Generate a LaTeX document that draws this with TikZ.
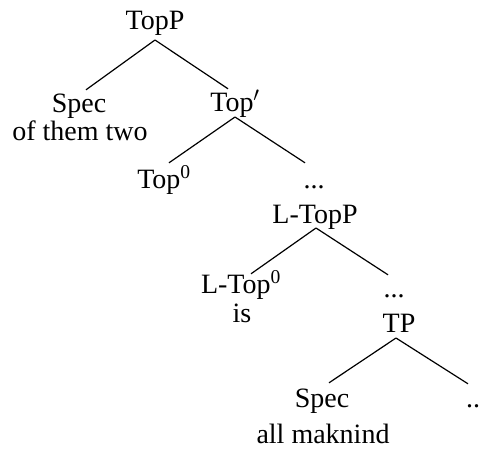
\documentclass[tikz,border=0pt]{standalone}
\usepackage{fontspec}
\setmainfont{Liberation Serif}
\begin{document}
\begin{tikzpicture}[x=1pt,y=-1pt,
  lbl/.style={inner sep=0pt, anchor=base, text height=18pt,
              font=\fontsize{28}{32}\selectfont},
  branch/.style={line width=1.2pt}]
\useasboundingbox (0,0) rectangle (481,450);

% labels, placed by their baselines
\node[lbl] (TopP)    at (155,29)  {TopP};
\node[lbl] (SpecA)   at (79,112)  {Spec};
\node[lbl] (them)    at (80,140)  {of them two};
\node[lbl] (TopBar)  at (235,111) {Top$'$};
\node[lbl] (TopZero) at (164,188) {Top\textsuperscript{0}};
\node[lbl] (dotsA)   at (314,188) {...};
\node[lbl] (LTopP)   at (315,223) {L-TopP};
\node[lbl] (LTopZero) at (241,293) {L-Top\textsuperscript{0}};
\node[lbl] (is)      at (242,322) {is};
\node[lbl] (dotsB)   at (394,297) {...};
\node[lbl] (TP)      at (399,332) {TP};
\node[lbl] (SpecB)   at (322,407) {Spec};
\node[lbl] (dotsC)   at (473,407) {..};
\node[lbl] (maknind) at (323,443) {all maknind};

% branches
\draw[branch] ([yshift=-11pt]TopP.base) -- ([shift={(7pt,4pt)}]SpecA.north);
\draw[branch] ([yshift=-11pt]TopP.base) -- ([shift={(-7pt,4pt)}]TopBar.north);
\draw[branch] ([yshift=-6pt]TopBar.base) -- ([shift={(5pt,7pt)}]TopZero.north);
\draw[branch] ([yshift=-6pt]TopBar.base) -- ([shift={(-9pt,7pt)}]dotsA.north);
\draw[branch] ([shift={(1pt,-5pt)}]LTopP.base) -- ([shift={(10pt,1pt)}]LTopZero.north);
\draw[branch] ([shift={(1pt,-5pt)}]LTopP.base) -- ([shift={(-6pt,4pt)}]dotsB.north);
\draw[branch] ([shift={(-3pt,-6pt)}]TP.base) -- ([shift={(7pt,6pt)}]SpecB.north);
\draw[branch] ([shift={(-3pt,-6pt)}]TP.base) -- ([shift={(-5pt,5pt)}]dotsC.north);
\end{tikzpicture}
\end{document}
